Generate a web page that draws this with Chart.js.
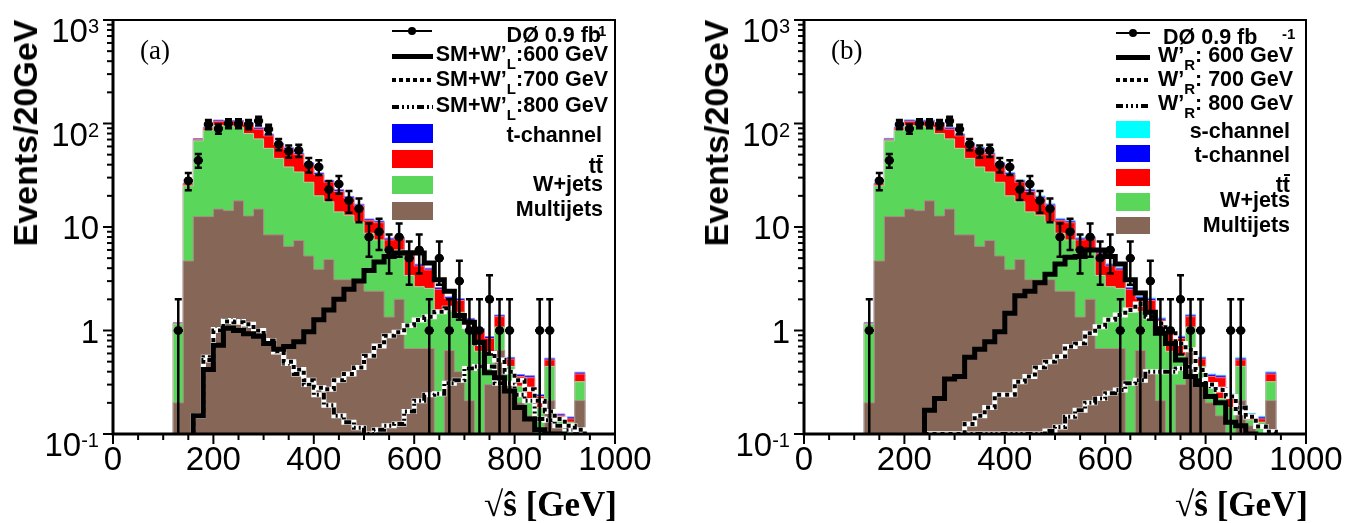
<!DOCTYPE html>
<html>
<head>
<meta charset="utf-8">
<title>W' search: sqrt(s-hat) distributions</title>
<script src="https://cdn.jsdelivr.net/npm/chart.js"></script>
<style>
  html, body { margin: 0; padding: 0; background: #fff; }
  body { position: relative; width: 1369px; height: 523px; overflow: hidden;
         font-family: "Liberation Sans", Arial, sans-serif; color: #000; }
  canvas { position: absolute; top: 0; }
  .abs { position: absolute; white-space: nowrap; }
  .ytitle { font-weight: bold; font-size: 34px; line-height: 34px;
            transform: translate(-50%, -50%) rotate(-90deg); }
  .xtitle { font-family: "Liberation Serif", "Times New Roman", serif; font-weight: bold;
            font-size: 35px; line-height: 40px; }
  .tag { font-family: "Liberation Serif", "Times New Roman", serif; font-size: 27px; line-height: 28px; }
  .ytick { font-size: 33px; line-height: 33px; transform: translateY(-50%); text-align: right; }
  .ytick sup { font-size: 20px; line-height: 0; vertical-align: 9px; }
  .lt { font-weight: bold; font-size: 21.5px; line-height: 22px; text-align: right; }
  .lt sub { font-size: 15px; line-height: 0; vertical-align: -8px; }
  .sup1 { font-weight: bold; font-size: 15px; line-height: 15px; }
  .tbar { position: relative; }
  .tbar::before { content: ''; position: absolute; left: 1px; right: 0; top: 1px; height: 2px; background: #000; }
  .sw { position: absolute; }
  .dots { background: repeating-linear-gradient(90deg, #000 0 4px, #fff 4px 7px); }
  .dashdot { background: repeating-linear-gradient(90deg, #000 0 7px, #fff 7px 10px, #000 10px 12px, #fff 12px 15px,
             #000 15px 17px, #fff 17px 20px, #000 20px 22px, #fff 22px 25px); }
  .dot { border-radius: 50%; background: #000; }
</style>
</head>
<body>
<canvas id="chartA" width="684" height="523" style="left:0"></canvas>
<canvas id="chartB" width="678" height="523" style="left:691px"></canvas>

<!-- axis titles and panel tags -->
<div class="abs ytitle" style="left:25px;top:133px">Events/20GeV</div>
<div class="abs ytitle" style="left:716px;top:133px">Events/20GeV</div>
<div class="abs xtitle" style="right:752px;top:485px">√ŝ [GeV]</div>
<div class="abs xtitle" style="right:61px;top:485px">√ŝ [GeV]</div>
<div class="abs tag" style="left:140px;top:36px">(a)</div>
<div class="abs tag" style="left:831px;top:36px">(b)</div>

<!-- legend (a) -->
<div class="sw" style="left:392px;top:30px;width:40px;height:2px;background:#000"></div>
<div class="sw dot" style="left:408px;top:27px;width:8px;height:8px"></div>
<div class="sw" style="left:392px;top:54px;width:41px;height:5px;background:#000"></div>
<div class="sw dots" style="left:392px;top:78px;width:41px;height:4px"></div>
<div class="sw dashdot" style="left:392px;top:105px;width:41px;height:4px"></div>
<div class="sw" style="left:392px;top:124px;width:41px;height:19px;background:#0000ff"></div>
<div class="sw" style="left:392px;top:150px;width:41px;height:18px;background:#ff0000"></div>
<div class="sw" style="left:392px;top:176px;width:41px;height:18px;background:#5ad65a"></div>
<div class="sw" style="left:392px;top:202px;width:41px;height:18px;background:#866657"></div>
<div class="abs lt" style="right:768px;top:24px">DØ 0.9 fb</div>
<div class="abs sup1" style="left:593px;top:23px">-1</div>
<div class="abs lt" style="right:761px;top:43px">SM+W’<sub>L</sub>:600 GeV</div>
<div class="abs lt" style="right:761px;top:68px">SM+W’<sub>L</sub>:700 GeV</div>
<div class="abs lt" style="right:761px;top:94px">SM+W’<sub>L</sub>:800 GeV</div>
<div class="abs lt" style="right:767px;top:124px">t-channel</div>
<div class="abs lt" style="right:766px;top:155px">t<span class="tbar">t</span></div>
<div class="abs lt" style="right:766px;top:173px">W+jets</div>
<div class="abs lt" style="right:766px;top:198px">Multijets</div>

<!-- legend (b) -->
<div class="sw" style="left:1116px;top:32px;width:34px;height:2px;background:#000"></div>
<div class="sw dot" style="left:1129px;top:29px;width:8px;height:8px"></div>
<div class="sw" style="left:1116px;top:55px;width:34px;height:5px;background:#000"></div>
<div class="sw dots" style="left:1116px;top:78px;width:34px;height:4px"></div>
<div class="sw dashdot" style="left:1116px;top:104px;width:34px;height:4px"></div>
<div class="sw" style="left:1116px;top:121px;width:34px;height:17px;background:#00ffff"></div>
<div class="sw" style="left:1116px;top:145px;width:34px;height:17px;background:#0000ff"></div>
<div class="sw" style="left:1116px;top:169px;width:34px;height:17px;background:#ff0000"></div>
<div class="sw" style="left:1116px;top:193px;width:34px;height:18px;background:#5ad65a"></div>
<div class="sw" style="left:1116px;top:217px;width:34px;height:17px;background:#866657"></div>
<div class="abs lt" style="left:1163px;top:26px">DØ 0.9 fb</div>
<div class="abs sup1" style="left:1282px;top:26px">-1</div>
<div class="abs lt" style="right:76px;top:44px">W’<sub>R</sub>: 600 GeV</div>
<div class="abs lt" style="right:76px;top:68px">W’<sub>R</sub>: 700 GeV</div>
<div class="abs lt" style="right:76px;top:92px">W’<sub>R</sub>: 800 GeV</div>
<div class="abs lt" style="right:79px;top:120px">s-channel</div>
<div class="abs lt" style="right:79px;top:144px">t-channel</div>
<div class="abs lt" style="right:79px;top:174px">t<span class="tbar">t</span></div>
<div class="abs lt" style="right:79px;top:189px">W+jets</div>
<div class="abs lt" style="right:79px;top:214px">Multijets</div>

<script>
// bin low edges, 20 GeV bins from 0 to 1000
const binLow = [0, 20, 40, 60, 80, 100, 120, 140, 160, 180, 200, 220, 240, 260, 280, 300, 320, 340, 360, 380,
                400, 420, 440, 460, 480, 500, 520, 540, 560, 580, 600, 620, 640, 660, 680, 700, 720, 740, 760, 780,
                800, 820, 840, 860, 880, 900, 920, 940, 960, 980];
const binWidth = 20;

const yTickVals = [0.1, 1, 10, 100, 1000];
const yTickLabels = ['10<sup>-1</sup>', '1', '10', '10<sup>2</sup>', '10<sup>3</sup>'];

// D0 data, events per bin
const dataCounts = [0, 0, 0, 0, 0, 0, 1, 28, 44, 98, 89, 100, 100, 98, 106, 88, 63, 54, 55, 40,
                    38, 23, 26, 18, 15, 8, 9, 6, 8, 5, 6, 1, 5, 1, 3, 1, 1, 2, 1, 1,
                    0, 0, 1, 1, 0, 0, 0, 0, 0, 0];

// backgrounds (same in both panels)
const multijets = [0, 0, 0, 0, 0, 0, 0.2, 4.7, 12.6, 12.6, 14.9, 14.4, 17.9, 12.8, 14.9, 8.4, 8.4, 6.5, 7.4, 5.25,
                   3.9, 4.85, 3.1, 3.1, 3.1, 2.4, 2.4, 1.35, 2.0, 0.67, 0.67, 0.67, 0, 0.64, 0.4, 0.21, 0, 0.3, 0.64, 0.3,
                   0.2, 0.15, 0, 0.21, 0.12, 0, 0.21, 0, 0, 0];
const wjets = [0, 0, 0, 0, 0, 0, 0.95, 20.3, 55.4, 73.4, 81, 80.6, 74.1, 67.2, 56.1, 49.1, 37.6, 31.5, 26.6, 21.8,
               16.1, 12.7, 10.9, 9.9, 8.1, 6.3, 5.1, 4.45, 4.0, 2.73, 1.98, 1.88, 1.5, 0.89, 1.1, 0.79, 0.63, 0.27, 0.44, 0.15,
               0.09, 0.07, 0.18, 0.24, 0.016, 0.13, 0.11, 0, 0, 0];
const ttbar = [0, 0, 0, 0, 0, 0, 0.02, 1, 2, 4, 9, 9, 12, 18, 17, 18.5, 16, 18, 16, 13,
               12, 9.5, 8, 6, 4.8, 2.8, 3.5, 1.7, 1.7, 2.1, 1.55, 1.3, 1.0, 0.5, 0.45, 0.26, 0.37, 0.27, 0.28, 0.08,
               0.07, 0.13, 0.05, 0.07, 0.014, 0.01, 0.06, 0, 0, 0];
const tchannel = [0, 0, 0, 0, 0, 0, 0.02, 0.6, 1.5, 2.2, 3, 3, 3.2, 3.3, 3, 2.8, 2.4, 2.2, 1.9, 1.6,
                  1.3, 1.1, 0.9, 0.75, 0.6, 0.45, 0.42, 0.3, 0.3, 0.22, 0.17, 0.15, 0.1, 0.08, 0.08, 0.05, 0.04, 0.035, 0.05, 0.02,
                  0.015, 0.015, 0.01, 0.02, 0.006, 0.006, 0.015, 0, 0, 0];
const schannel = [0, 0, 0, 0, 0, 0, 0.01, 0.3, 0.7, 1.0, 1.4, 1.4, 1.5, 1.5, 1.4, 1.3, 1.1, 1.0, 0.9, 0.75,
                  0.6, 0.5, 0.42, 0.35, 0.28, 0.2, 0.2, 0.14, 0.14, 0.1, 0.08, 0.07, 0.05, 0.04, 0.04, 0.025, 0.02, 0.017, 0.025, 0.01,
                  0.007, 0.007, 0.005, 0.01, 0.003, 0.003, 0.007, 0, 0, 0];

// W' signals, left-handed (panel a)
const wpL600 = [0, 0, 0, 0, 0, 0, 0, 0, 0.15, 0.42, 0.72, 1.05, 1.0, 0.93, 0.88, 0.75, 0.66, 0.7, 0.78, 0.97,
                1.27, 1.58, 2.0, 2.5, 3.0, 3.8, 4.6, 5.2, 5.6, 5.65, 5.6, 4.5, 3.1, 2.4, 1.4, 1.2, 0.77, 0.39, 0.35, 0.26,
                0.18, 0.14, 0.11, 0.1, 0.1, 0, 0, 0, 0, 0];
const wpL700 = [0, 0, 0, 0, 0, 0, 0, 0, 0.15, 0.52, 1.0, 1.22, 1.2, 1.15, 1.0, 0.8, 0.63, 0.5, 0.42, 0.33,
                0.28, 0.27, 0.33, 0.38, 0.44, 0.57, 0.71, 0.89, 0.96, 1.12, 1.26, 1.36, 1.52, 1.64, 1.4, 1.1, 0.75, 0.6, 0.52, 0.4,
                0.33, 0.27, 0.21, 0.165, 0.14, 0.12, 0.11, 0, 0, 0];
const wpL800 = [0, 0, 0, 0, 0, 0, 0, 0, 0.15, 0.55, 1.02, 1.25, 1.22, 1.12, 1.0, 0.8, 0.62, 0.48, 0.38, 0.3,
                0.24, 0.19, 0.15, 0.13, 0.115, 0.1, 0.11, 0.12, 0.125, 0.165, 0.21, 0.24, 0.245, 0.31, 0.33, 0.43, 0.45, 0.45, 0.31, 0.31,
                0.24, 0.21, 0.14, 0.136, 0.12, 0.11, 0.1, 0, 0, 0];

// W' signals, right-handed (panel b)
const wpR600 = [0, 0, 0, 0, 0, 0, 0, 0, 0, 0, 0, 0, 0.17, 0.22, 0.34, 0.36, 0.55, 0.66, 0.78, 0.97,
                1.47, 2.17, 2.4, 2.9, 3.5, 4.4, 5.1, 5.2, 6.0, 6.0, 5.2, 4.4, 3.1, 2.3, 1.5, 0.94, 0.75, 0.52, 0.36, 0.3,
                0.23, 0.2, 0.13, 0.12, 0.1, 0, 0, 0, 0, 0];
const wpR700 = [0, 0, 0, 0, 0, 0, 0, 0, 0, 0, 0, 0, 0.1, 0.1, 0.1, 0.1, 0.125, 0.15, 0.18, 0.24,
                0.24, 0.32, 0.36, 0.44, 0.5, 0.56, 0.7, 0.75, 0.94, 1.09, 1.27, 1.41, 1.58, 1.8, 1.36, 1.17, 1.0, 0.75, 0.65, 0.415,
                0.3, 0.266, 0.23, 0.16, 0.147, 0.118, 0.105, 0, 0, 0];
const wpR800 = [0, 0, 0, 0, 0, 0, 0, 0, 0, 0, 0, 0, 0.1, 0.1, 0.1, 0.1, 0.1, 0.1, 0.1, 0.1,
                0.1, 0.1, 0.1, 0.1, 0.107, 0.117, 0.147, 0.17, 0.2, 0.22, 0.247, 0.266, 0.31, 0.33, 0.4, 0.4, 0.4, 0.43, 0.447, 0.33,
                0.29, 0.27, 0.23, 0.18, 0.147, 0.118, 0.105, 0, 0, 0];

const FONT = "'Liberation Sans', Arial, sans-serif";
const FLOOR = 0.01;   // empty bins sit below the axis minimum

function stepPoints(vals) {
  const pts = binLow.map((x, i) => ({ x: x, y: vals[i] > 0 ? vals[i] : FLOOR }));
  pts.push({ x: binLow[binLow.length - 1] + binWidth, y: pts[pts.length - 1].y });
  return pts;
}

function addUp(a, b) {
  return a.map((v, i) => v + b[i]);
}

function fillSet(label, vals, color, edge, order) {
  return { label: label, data: stepPoints(vals), stepped: true, fill: 'start',
           backgroundColor: color, borderColor: edge, borderWidth: 1,
           pointRadius: 0, order: order, clip: 0 };
}

function lineSet(label, vals, color, width, dash, order) {
  return { label: label, data: stepPoints(vals), stepped: true, fill: false,
           borderColor: color, borderWidth: width, borderDash: dash,
           borderCapStyle: 'butt', borderJoinStyle: 'miter',
           pointRadius: 0, order: order, clip: 0 };
}

const errorBars = {
  id: 'errorBars',
  afterDatasetsDraw(chart) {
    const { ctx, chartArea: a } = chart;
    const x = chart.scales.x, y = chart.scales.y;
    ctx.save();
    ctx.strokeStyle = '#000';
    dataCounts.forEach((n, i) => {
      if (n <= 0) return;
      const cx = x.getPixelForValue(binLow[i] + binWidth / 2);
      const cy = y.getPixelForValue(n);
      const hi = y.getPixelForValue(n + Math.sqrt(n));
      const loVal = n - Math.sqrt(n);
      const lo = loVal > 0 ? y.getPixelForValue(loVal) : a.bottom;
      ctx.lineWidth = 2.5;
      ctx.beginPath();
      ctx.moveTo(cx, hi);
      ctx.lineTo(cx, Math.min(lo, a.bottom));
      ctx.moveTo(cx - 3.5, hi);
      ctx.lineTo(cx + 3.5, hi);
      if (loVal > 0) {
        ctx.moveTo(cx - 3.5, lo);
        ctx.lineTo(cx + 3.5, lo);
      }
      ctx.stroke();
      ctx.lineWidth = 3;
      ctx.beginPath();
      ctx.moveTo(x.getPixelForValue(binLow[i]) + 0.5, cy);
      ctx.lineTo(x.getPixelForValue(binLow[i] + binWidth) - 0.5, cy);
      ctx.stroke();
    });
    ctx.restore();
  }
};

const frame = {
  id: 'frame',
  afterDraw(chart) {
    const { ctx, chartArea: a } = chart;
    const x = chart.scales.x, y = chart.scales.y;
    ctx.save();
    ctx.strokeStyle = '#000';
    ctx.lineWidth = 2;
    ctx.beginPath();
    ctx.moveTo(a.left, a.top);
    ctx.lineTo(a.right, a.top);
    ctx.lineTo(a.right, a.bottom);
    ctx.stroke();
    ctx.lineWidth = 3;
    ctx.beginPath();
    ctx.moveTo(a.left, a.top - 1);
    ctx.lineTo(a.left, a.bottom);
    ctx.lineTo(a.right + 1, a.bottom);
    ctx.stroke();
    // x ticks: major every 200, minor every 50
    ctx.lineWidth = 2;
    for (let v = 0; v <= 1000; v += 50) {
      const px = x.getPixelForValue(v);
      const len = v % 200 === 0 ? 10 : 6;
      ctx.beginPath();
      ctx.moveTo(px, a.bottom);
      ctx.lineTo(px, a.bottom + len);
      ctx.stroke();
    }
    // y ticks: decades and 2..9 in between
    for (let e = -1; e <= 3; e++) {
      for (let k = 1; k <= 9; k++) {
        const v = k * Math.pow(10, e);
        if (v > 1000.001) break;
        const py = y.getPixelForValue(v);
        const len = k === 1 ? 10 : 6;
        ctx.beginPath();
        ctx.moveTo(a.left, py);
        ctx.lineTo(a.left - len, py);
        ctx.stroke();
      }
    }
    ctx.restore();
  }
};

function makePanel(canvasId, offsetX, padRight, signals, bgLayers) {
  const ctx = document.getElementById(canvasId).getContext('2d');

  const datasets = [];
  datasets.push({
    label: 'data',
    data: binLow.map((x, i) => ({ x: x + binWidth / 2, y: dataCounts[i] })).filter(p => p.y > 0),
    showLine: false, pointRadius: 4, pointHoverRadius: 4,
    pointBackgroundColor: '#000', pointBorderColor: '#000', order: 0, clip: false
  });
  datasets.push(lineSet('600 GeV', signals[0], '#000', 5, [], 1));
  datasets.push(lineSet('700 GeV', signals[1], '#000', 4, [4, 4], 2));
  datasets.push(lineSet('700 GeV bg', signals[1], '#fff', 5, [], 3));
  datasets.push(lineSet('800 GeV', signals[2], '#000', 4, [7, 3, 2, 3, 2, 3, 2, 3], 4));
  datasets.push(lineSet('800 GeV bg', signals[2], '#fff', 5, [], 5));

  let cum = null;
  bgLayers.forEach((layer, j) => {
    cum = cum ? addUp(cum, layer.vals) : layer.vals.slice();
    datasets.push(fillSet(layer.label, cum, layer.color, layer.edge, 6 + j));
  });

  const chart = new Chart(ctx, {
    type: 'line',
    data: { datasets: datasets },
    options: {
      responsive: false,
      animation: false,
      events: [],
      devicePixelRatio: 1,
      layout: { padding: { left: 0, top: 20, right: padRight, bottom: 0 } },
      plugins: { legend: { display: false }, tooltip: { enabled: false } },
      scales: {
        x: {
          type: 'linear', min: 0, max: 1000,
          grid: { display: false, drawTicks: false },
          border: { display: false },
          ticks: { stepSize: 200, color: '#000', font: { family: FONT, size: 33 },
                   padding: 7, maxRotation: 0, autoSkip: false,
                   callback: v => String(v) },
          afterFit: s => { s.height = 89; }
        },
        y: {
          type: 'logarithmic', min: 0.1, max: 1000,
          grid: { display: false, drawTicks: false },
          border: { display: false },
          ticks: { display: false },
          afterFit: s => { s.width = 113; }
        }
      }
    },
    plugins: [errorBars, frame]
  });

  // decade labels with real superscripts
  const ys = chart.scales.y;
  yTickVals.forEach((v, i) => {
    const d = document.createElement('div');
    d.className = 'abs ytick';
    d.innerHTML = yTickLabels[i];
    d.style.right = (1369 - (offsetX + chart.chartArea.left - 14)) + 'px';
    const shift = yTickLabels[i].indexOf('sup') >= 0 ? 10 : 0;
    d.style.top = (ys.getPixelForValue(v) + shift) + 'px';
    document.body.appendChild(d);
  });
  return chart;
}

makePanel('chartA', 0, 69, [wpL600, wpL700, wpL800], [
  { label: 'Multijets', vals: multijets, color: '#866657', edge: '#a99087' },
  { label: 'W+jets', vals: wjets, color: '#5ad65a', edge: '#a8dca8' },
  { label: 'ttbar', vals: ttbar, color: '#ff0000', edge: '#ff7070' },
  { label: 't-channel', vals: tchannel, color: '#0000ff', edge: '#8080ff' }
]);

makePanel('chartB', 691, 63, [wpR600, wpR700, wpR800], [
  { label: 'Multijets', vals: multijets, color: '#866657', edge: '#a99087' },
  { label: 'W+jets', vals: wjets, color: '#5ad65a', edge: '#a8dca8' },
  { label: 'ttbar', vals: ttbar, color: '#ff0000', edge: '#ff7070' },
  { label: 't-channel', vals: tchannel, color: '#0000ff', edge: '#8080ff' },
  { label: 's-channel', vals: schannel, color: '#00ffff', edge: '#a0ffff' }
]);
</script>
</body>
</html>
